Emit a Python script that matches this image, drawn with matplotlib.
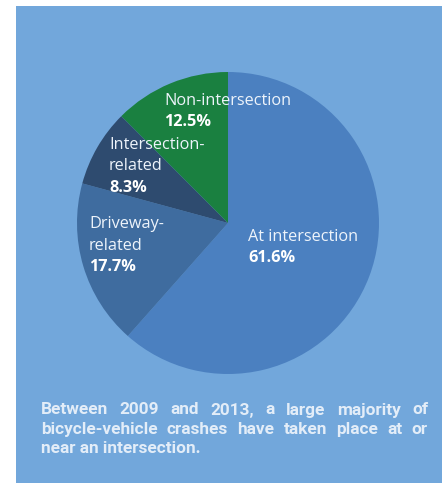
import matplotlib
matplotlib.use("Agg")
import matplotlib.pyplot as plt
from matplotlib.patches import Rectangle

categories = ["At intersection", "Driveway-\nrelated", "Intersection-\nrelated", "Non-intersection"]
values = [61.6, 17.7, 8.3, 12.5]
value_labels = ["61.6%", "17.7%", "8.3%", "12.5%"]
colors = ["#4b80c0", "#3f6c9f", "#2e4b6f", "#1a8040"]
caption_lines = [
    "Between 2009 and 2013, a large majority of",
    "bicycle-vehicle crashes have taken place at or",
    "near an intersection.",
]

W, H = 448, 483
fig = plt.figure(figsize=(W / 100, H / 100), dpi=100)
fig.patch.set_facecolor("white")

# panel background
bg = fig.add_axes([0, 0, 1, 1], zorder=-5)
bg.set_xlim(0, W)
bg.set_ylim(H, 0)
bg.axis("off")
bg.add_patch(Rectangle((16, 6), 442 - 16, H - 6, facecolor="#72a7db", edgecolor="none"))

cx, cy, r = 228, 223, 151
ax = fig.add_axes([(cx - r) / W, (H - cy - r) / H, 2 * r / W, 2 * r / H], zorder=1)
ax.pie(values, colors=colors, startangle=90, counterclock=False,
       wedgeprops=dict(linewidth=0))
ax.set_xlim(-1, 1)
ax.set_ylim(-1, 1)
ax.set_aspect("auto")
ax.axis("off")

def px(x, y):
    return x / W, 1 - y / H

lab_font = "Open Sans"
fs = 11.7
pos = {
    0: (248, 237),
    1: (89, 224),
    2: (109, 145),
    3: (164, 101),
}
lh = 21.5
for i, cat in enumerate(categories):
    x, y = pos[i]
    lines = cat.split("\n")
    for j, ln in enumerate(lines):
        fig.text(*px(x, y + j * lh), ln, fontsize=fs, family=lab_font,
                 color="#eef4fb", va="center", ha="left", zorder=5)
    fig.text(*px(x, y + len(lines) * lh), value_labels[i], fontsize=fs,
             family=lab_font, weight="bold", color="white", va="center", ha="left", zorder=5)

# justified caption
fig.canvas.draw()
renderer = fig.canvas.get_renderer()
left, right = 41, 428
cap_y = [410, 429.5, 448.5]
cfs = 12.4
cw = "bold"
ccol = "#e3edf8"
for k, line in enumerate(caption_lines):
    words = line.split(" ")
    y = cap_y[k]
    if k == len(caption_lines) - 1:
        fig.text(*px(left, y), line, fontsize=cfs, family="Roboto", weight=cw,
                 color=ccol, va="center", ha="left")
        continue
    texts = []
    widths = []
    for w in words:
        t = fig.text(0, 0, w, fontsize=cfs, family="Roboto", weight=cw,
                     color=ccol, va="center", ha="left")
        bb = t.get_window_extent(renderer)
        texts.append(t)
        widths.append(bb.width)
    gap = (right - left - sum(widths)) / (len(words) - 1)
    xx = left
    for t, wd in zip(texts, widths):
        t.set_position(px(xx, y))
        xx += wd + gap

fig.savefig("out.png", dpi=100, facecolor="white")
